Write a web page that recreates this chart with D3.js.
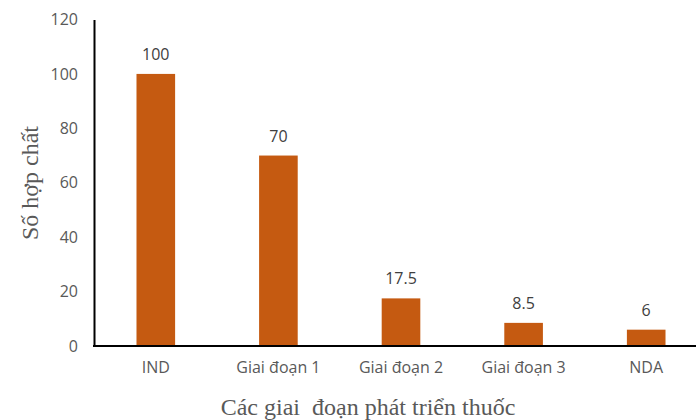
<!DOCTYPE html>
<html>
<head>
<meta charset="utf-8">
<script src="https://cdn.jsdelivr.net/npm/d3@7"></script>
<style>
  body { margin: 0; background: #fff; }
  svg { display: block; }
</style>
</head>
<body>
<svg id="chart" width="696" height="420"></svg>
<script>
// Number of compounds remaining at each drug development stage
const categories = ["IND", "Giai đoạn 1", "Giai đoạn 2", "Giai đoạn 3", "NDA"];
const values = [100, 70, 17.5, 8.5, 6];
const valueLabels = ["100", "70", "17.5", "8.5", "6"];
const yTicks = [0, 20, 40, 60, 80, 100, 120];

const svg = d3.select("#chart");
const plotLeft = 94.5, plotRight = 707.5, plotTop = 19.5, plotBottom = 346;

const x = d3.scaleBand()
  .domain(categories)
  .range([plotLeft, plotRight])
  .paddingInner(0.685)
  .paddingOuter(0.3425);

const y = d3.scaleLinear().domain([0, 120]).range([plotBottom, plotTop]);

const tickFont = "'Open Sans', sans-serif";
const tickSize = 16;

// Bars
svg.append("g").selectAll("rect")
  .data(values)
  .join("rect")
  .attr("x", (d, i) => x(categories[i]))
  .attr("y", d => y(d))
  .attr("width", x.bandwidth())
  .attr("height", d => plotBottom - y(d))
  .attr("fill", "#C55A11");

// Value labels above bars
svg.append("g").selectAll("text")
  .data(values)
  .join("text")
  .attr("x", (d, i) => x(categories[i]) + x.bandwidth() / 2)
  .attr("y", d => y(d) - 14)
  .attr("text-anchor", "middle")
  .attr("font-family", tickFont)
  .attr("font-size", tickSize)
  .attr("fill", "#404040")
  .text((d, i) => valueLabels[i]);

// Y axis
const yAxis = svg.append("g")
  .attr("transform", `translate(${plotLeft - 0.5},0)`)
  .call(d3.axisLeft(y).tickValues(yTicks).tickSize(0).tickPadding(16).tickSizeOuter(0));
yAxis.select(".domain").attr("stroke", "#000").attr("stroke-width", 2);
yAxis.selectAll("text")
  .attr("font-family", tickFont)
  .attr("font-size", tickSize)
  .attr("fill", "#595959");

// X axis
const xAxis = svg.append("g")
  .attr("transform", `translate(0,${plotBottom})`)
  .call(d3.axisBottom(x).tickSize(0).tickPadding(16).tickSizeOuter(0));
xAxis.select(".domain").attr("stroke", "#000").attr("stroke-width", 2)
  .attr("d", `M${plotLeft - 1.5},0H${plotRight}`);
xAxis.selectAll("text")
  .attr("font-family", tickFont)
  .attr("font-size", tickSize)
  .attr("fill", "#595959");

// Axis titles
svg.append("text")
  .attr("x", 368)
  .attr("y", 415)
  .attr("text-anchor", "middle")
  .attr("font-family", "'Liberation Serif', 'Times New Roman', serif")
  .attr("font-size", 24)
  .attr("fill", "#595959")
  .attr("xml:space", "preserve")
  .style("white-space", "pre")
  .text("Các giai  đoạn phát triển thuốc");

svg.append("text")
  .attr("transform", "translate(38,183) rotate(-90)")
  .attr("text-anchor", "middle")
  .attr("font-family", "'Liberation Serif', 'Times New Roman', serif")
  .attr("font-size", 24)
  .attr("fill", "#595959")
  .text("Số hợp chất");
</script>
</body>
</html>
